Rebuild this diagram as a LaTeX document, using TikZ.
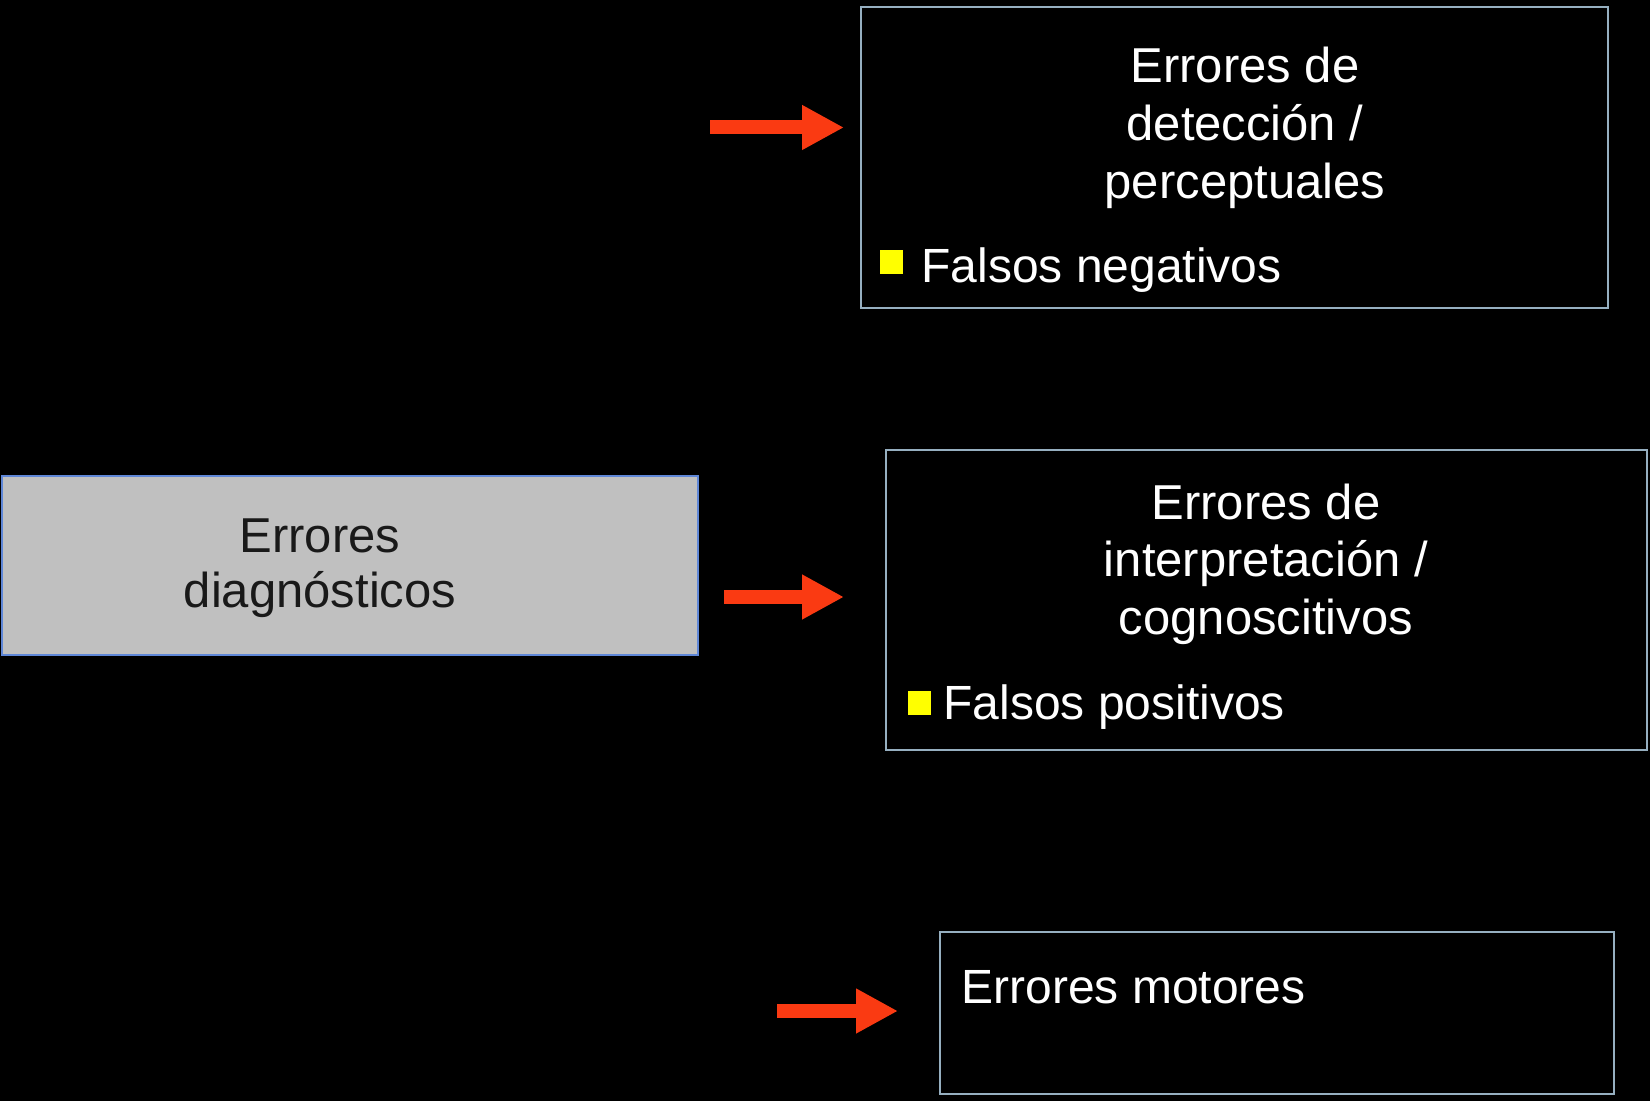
\documentclass[tikz,border=0pt]{standalone}
\usepackage{fontspec}
\setmainfont{Liberation Sans}
\usetikzlibrary{arrows.meta}
\definecolor{arrowred}{RGB}{250,58,18}
\definecolor{boxline}{RGB}{150,175,192}
\definecolor{grayfill}{RGB}{192,192,192}
\definecolor{grayline}{RGB}{95,135,215}
\definecolor{bulletyellow}{RGB}{255,255,0}
\definecolor{darktext}{RGB}{25,25,25}
\begin{document}
\begin{tikzpicture}[x=0.5pt,y=-0.5pt,
  darkbox/.style={draw=boxline, line width=1pt, fill=black, inner sep=0pt, rectangle},
  graybox/.style={draw=grayline, line width=1pt, fill=grayfill, inner sep=0pt, rectangle},
  headtext/.style={font=\fontsize{24.5}{#1}\selectfont, align=center, inner sep=0pt, anchor=base, text=white},
  headtext/.default=29pt,
  itemtext/.style={font=\fontsize{24}{29}\selectfont, inner sep=0pt, anchor=base west, text=white},
  bulletsq/.style={fill=bulletyellow, inner sep=0pt, minimum width=11.5pt, minimum height=12pt, rectangle},
  redarrow/.style={draw=arrowred, line width=7pt, -{Triangle[length=21pt,width=21pt]}}
]
\useasboundingbox (0,0) rectangle (1650,1101);
\fill[black] (0,0) rectangle (1650,1101);

% boxes
\node[darkbox, minimum width=373.5pt, minimum height=150.5pt] (b1) at (1234.5,157.5) {};
\node[graybox, minimum width=348pt, minimum height=89.5pt] (b2) at (350,565.5) {};
\node[darkbox, minimum width=380.5pt, minimum height=150pt] (b3) at (1266.5,600) {};
\node[darkbox, minimum width=337pt, minimum height=81pt] (b4) at (1277,1013) {};

% box 1 text (anchor base = baseline of the last line)
\node[headtext=29pt] (t1) at (1245,199) {Errores de\\detección /\\perceptuales};
\node[bulletsq] (q1) at (891.5,262.5) {};
\node[itemtext] (i1) at (921,283) {Falsos negativos};

% box 2 text
\node[headtext=27.5pt, text=darktext] (t2) at (320,607) {Errores\\diagnósticos};

% box 3 text
\node[headtext=28.75pt] (t3) at (1266,634) {Errores de\\interpretación /\\cognoscitivos};
\node[bulletsq] (q3) at (919,702.5) {};
\node[itemtext] (i3) at (943,719) {Falsos positivos};

% box 4 text
\node[itemtext] (t4) at (961,1003) {Errores motores};

% arrows
\coordinate (a1) at (710,127.5);
\coordinate (a2) at (724,597);
\coordinate (a3) at (777,1011);
\draw[redarrow, shorten >=8pt] (a1) -- (a1 -| b1.west);
\draw[redarrow, shorten >=20.5pt] (a2) -- (a2 -| b3.west);
\draw[redarrow, shorten >=20.5pt] (a3) -- (a3 -| b4.west);
\end{tikzpicture}
\end{document}
